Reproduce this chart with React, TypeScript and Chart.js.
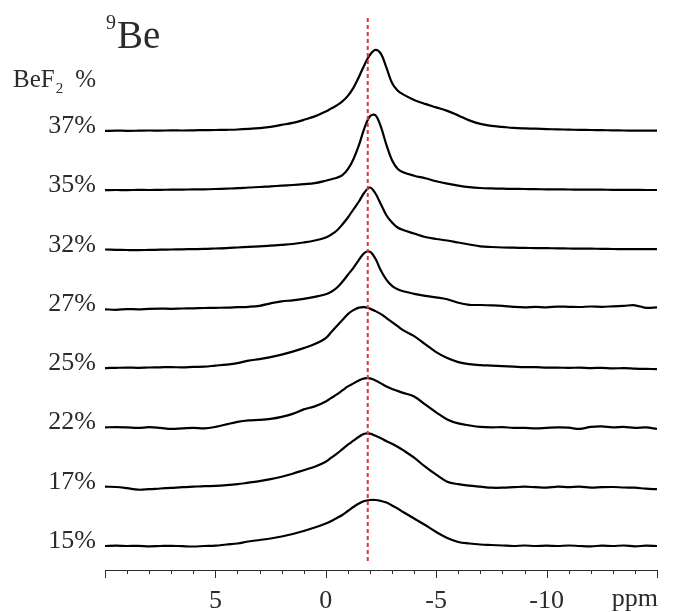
import React, { useEffect, useRef } from "react";
import { Chart, registerables } from "chart.js";

Chart.register(...registerables);

// chemical shift grid (ppm)
const PPM = [
  10, 9.5, 9, 8.5, 8, 7.5, 7, 6.5, 6, 5.5, 5, 4.5, 4, 3.5, 3, 2.5, 2, 1.5, 1, 0.5, 0,
  -0.25, -0.5, -0.75, -1, -1.25, -1.5, -1.75, -2, -2.25, -2.5, -2.75, -3, -3.25, -3.5,
  -4, -4.5, -5, -5.5, -6, -6.5, -7, -7.5, -8, -8.5, -9, -9.5, -10, -10.5, -11, -11.5,
  -12, -12.5, -13, -13.5, -14, -14.5, -15,
];

const SERIES_LABELS = ["37%", "35%", "32%", "27%", "25%", "22%", "17%", "15%"];

const S37 = [
  0, 0.3, 0.1, 0.2, 0.4, 0.3, 0.5, 0.4, 0.6, 0.8, 0.9, 1.1, 1.4, 2, 2.8, 4, 6, 8, 11, 14.5, 19.5,
  22.5, 25.5, 29.5, 35, 43, 54, 66, 76, 81, 77, 63, 48, 40.5, 36.5,
  31, 27, 23.5, 20, 15.5, 10.5, 7, 5, 4, 3, 2.5, 2.2, 1.8, 1.5, 1.3, 1,
  0.9, 0.7, 0.6, 0.4, 0.3, 0.3, 0.2,
];
const S35 = [
  0, 0.2, 0.1, 0.3, 0.2, 0.4, 0.5, 0.6, 0.8, 0.9, 1.2, 1.6, 2, 2.7, 3.2, 3.9, 4.5, 5.2, 6, 7, 9.5,
  11, 12.5, 15, 21, 31, 45, 62, 74, 75, 63, 45, 30, 21.5, 18,
  14.5, 12, 9, 6.5, 4.5, 3, 2.2, 1.8, 1.5, 1.3, 1.2, 1, 0.9, 0.8, 0.7, 0.6,
  0.5, 0.5, 0.4, 0.3, 0.3, 0.2, 0.2,
];
const S32 = [
  0, -0.3, -0.5, -0.6, -0.4, -0.2, 0, 0.2, 0.4, 0.6, 1, 1.4, 2, 2.6, 3.2, 3.8, 4.6, 5.5, 7, 9, 12,
  15, 19, 25, 32, 40, 48, 57, 62, 56, 45, 34, 27, 22, 19.5,
  16, 12.5, 10.5, 9, 7, 5, 3.2, 2.5, 2, 1.8, 1.6, 1.4, 1.3, 1.2, 1, 0.8,
  0.8, 0.7, 0.5, 0.4, 0.4, 0.3, 0.3,
];
const S27 = [
  -0.5, -1, -0.3, -0.5, 0, 0.2, 0, 0.3, 0.5, 0.8, 1, 1.2, 1.6, 2, 3, 5.5, 7.5, 8.5, 10, 12, 14.5,
  17, 21, 27, 34, 41, 49, 56, 57, 50, 38, 29, 23, 19.5, 17.5,
  15, 13, 11.5, 9.5, 6, 4, 3.8, 3.5, 3, 2, 1.5, 2, 1.5, 2.2, 2, 1.8,
  2.3, 2, 2.5, 3, 3.5, 1, 1.5,
];
const S25 = [
  0, 0.3, 0.5, 0.3, 0.6, 0.8, 1, 0.7, 1.2, 1.5, 2.5, 3.5, 5, 7.5, 9, 11, 13.5, 16.5, 20, 24, 30,
  36, 42, 48, 54, 58, 60.5, 61, 59.5, 57, 54, 50, 46, 42, 38,
  32, 24, 16, 10, 6, 4, 3, 2.5, 2, 1.5, 1, 1, 0.5, 0.5, 0.2, 0.5,
  0, 0.3, -0.3, 0, -0.5, -0.8, -1,
];
const S22 = [
  0, 0.3, 0, -0.5, 0.2, -0.5, -1.5, -1, -0.5, -1, 0.5, 3, 5.5, 7, 7.5, 8.5, 10.5, 13.5, 18, 21, 26,
  29.5, 33, 37, 41, 44, 47, 49, 49, 47, 44, 41, 38.5, 36.5, 34.5,
  31, 23, 15, 8, 4, 2, 0.5, 0, 0.3, -0.5, -0.5, -1, -0.5, 0, -0.3, -1.5,
  0.5, 1, 0, 0.5, -0.5, 0, -1.5,
];
const S17 = [
  0, -0.3, -1.5, -3, -2.5, -1.8, -1.2, -0.5, 0, 0.5, 0.8, 1.5, 2.5, 4, 5.5, 7.5, 10, 13, 16.5, 20, 25,
  29, 33, 37.5, 42, 46, 50, 53, 53, 51, 48.5, 45.5, 43, 40, 36.5,
  29, 20, 12, 5, 2.5, 1, 0, -1, -1, -0.5, 0, -0.5, -1, 0, -0.5, 0,
  -1, -0.5, -0.3, -0.8, -1, -2, -2.5,
];
const S15 = [
  0, 0.3, 0, 0.2, -0.3, 0, 0.2, -0.2, -0.5, 0, 0.3, 1.5, 2.5, 4.5, 6, 7.5, 9.5, 12, 15, 18.5, 22.5,
  25, 28, 31, 35, 39, 42.5, 45, 46, 46, 45, 43.5, 40.5, 37.5, 34,
  27.5, 21, 14, 8, 4, 2.5, 1.5, 1, 0.5, 0, 0.5, 0, 0.3, 0, 0.5, 0,
  -0.3, 0.3, 0, 0.5, -0.3, 0.3, 0,
];

const SERIES = [S37, S35, S32, S27, S25, S22, S17, S15];

const X_TICK_LABELS = [5, 0, -5, -10];
const X_MIN = -15;
const X_MAX = 10;
const Y_MIN = 0;
const Y_MAX = 570;
const STACK_BASE = 24;
const STACK_STEP = 59.3;
const REF_PPM = -1.9;
const REF_RANGE = [9, 552];

const offsetOf = (i: number) => STACK_BASE + (SERIES.length - 1 - i) * STACK_STEP;

const TEXT_COLOR = "#2b2b2b";
const SERIF = '"Liberation Serif", "Times New Roman", serif';

const decorPlugin = {
  id: "decor",
  afterDraw(chart: any) {
    const { ctx, chartArea, scales } = chart;
    const x = scales.x;
    const y = scales.y;
    ctx.save();
    // tick marks (major every 5 ppm, minor every 1 ppm)
    ctx.strokeStyle = TEXT_COLOR;
    ctx.lineWidth = 1;
    const yb = chartArea.bottom;
    for (let v = X_MAX; v >= X_MIN; v--) {
      const px = Math.round(x.getPixelForValue(v)) + 0.5;
      const len = v % 5 === 0 ? 8 : 4;
      ctx.beginPath();
      ctx.moveTo(px, yb);
      ctx.lineTo(px, yb + len);
      ctx.stroke();
    }
    ctx.fillStyle = TEXT_COLOR;
    ctx.font = `26px ${SERIF}`;
    ctx.textBaseline = "alphabetic";
    ctx.textAlign = "right";
    ctx.fillText("ppm", x.getPixelForValue(X_MIN) + 1, yb + 36);

    // series labels
    SERIES_LABELS.forEach((t, i) => {
      const py = y.getPixelForValue(offsetOf(i));
      ctx.fillText(t, chartArea.left - 9, py + 2);
    });

    // BeF2 %
    ctx.textAlign = "left";
    ctx.font = `25px ${SERIF}`;
    const bx = 13;
    const by = 87;
    ctx.fillText("BeF", bx, by);
    const w1 = ctx.measureText("BeF").width;
    ctx.font = `15px ${SERIF}`;
    ctx.fillText("2", bx + w1 + 1, by + 6);
    ctx.font = `25px ${SERIF}`;
    ctx.textAlign = "right";
    ctx.fillText("%", chartArea.left - 9, by);

    // 9Be
    ctx.textAlign = "left";
    ctx.font = `20px ${SERIF}`;
    ctx.fillText("9", 106, 29);
    const w9 = ctx.measureText("9").width;
    ctx.font = `39px ${SERIF}`;
    ctx.fillText("Be", 106 + w9 + 1, 48);
    ctx.restore();
  },
};

export default function App() {
  const ref = useRef<HTMLCanvasElement | null>(null);

  useEffect(() => {
    if (!ref.current) return;
    const datasets: any[] = [
      {
        data: [
          { x: REF_PPM, y: REF_RANGE[0] },
          { x: REF_PPM, y: REF_RANGE[1] },
        ],
        borderColor: "#e8313a",
        borderWidth: 2,
        borderDash: [4, 3],
        pointRadius: 0,
        tension: 0,
      },
    ];
    SERIES.forEach((s, i) => {
      const off = offsetOf(i);
      datasets.push({
        label: SERIES_LABELS[i],
        data: PPM.map((p, k) => ({ x: p, y: s[k] + off })),
        borderColor: "#000000",
        borderWidth: 2.2,
        pointRadius: 0,
        tension: 0.35,
        borderJoinStyle: "round",
      });
    });

    const chart = new Chart(ref.current, {
      type: "line",
      data: { datasets },
      plugins: [decorPlugin],
      options: {
        animation: false,
        responsive: false,
        maintainAspectRatio: false,
        events: [],
        layout: { padding: { left: 105, right: 30, top: 0, bottom: 0 } },
        plugins: { legend: { display: false }, tooltip: { enabled: false } },
        scales: {
          x: {
            type: "linear",
            min: X_MIN,
            max: X_MAX,
            reverse: true,
            grid: { display: false },
            border: { display: true, color: TEXT_COLOR, width: 1 },
            afterFit: (axis: any) => {
              axis.height = 42;
            },
            ticks: {
              stepSize: 5,
              autoSkip: false,
              maxRotation: 0,
              padding: 8,
              color: TEXT_COLOR,
              font: { family: SERIF, size: 26 },
              callback: (v: any) => (X_TICK_LABELS.includes(Number(v)) ? String(v) : ""),
            },
          },
          y: {
            type: "linear",
            min: Y_MIN,
            max: Y_MAX,
            display: false,
          },
        },
      },
    });
    return () => chart.destroy();
  }, []);

  return (
    <div style={{ position: "absolute", left: 0, top: 0, width: 687, height: 612, background: "#fff" }}>
      <canvas ref={ref} width={687} height={612} style={{ width: 687, height: 612 }} />
    </div>
  );
}
